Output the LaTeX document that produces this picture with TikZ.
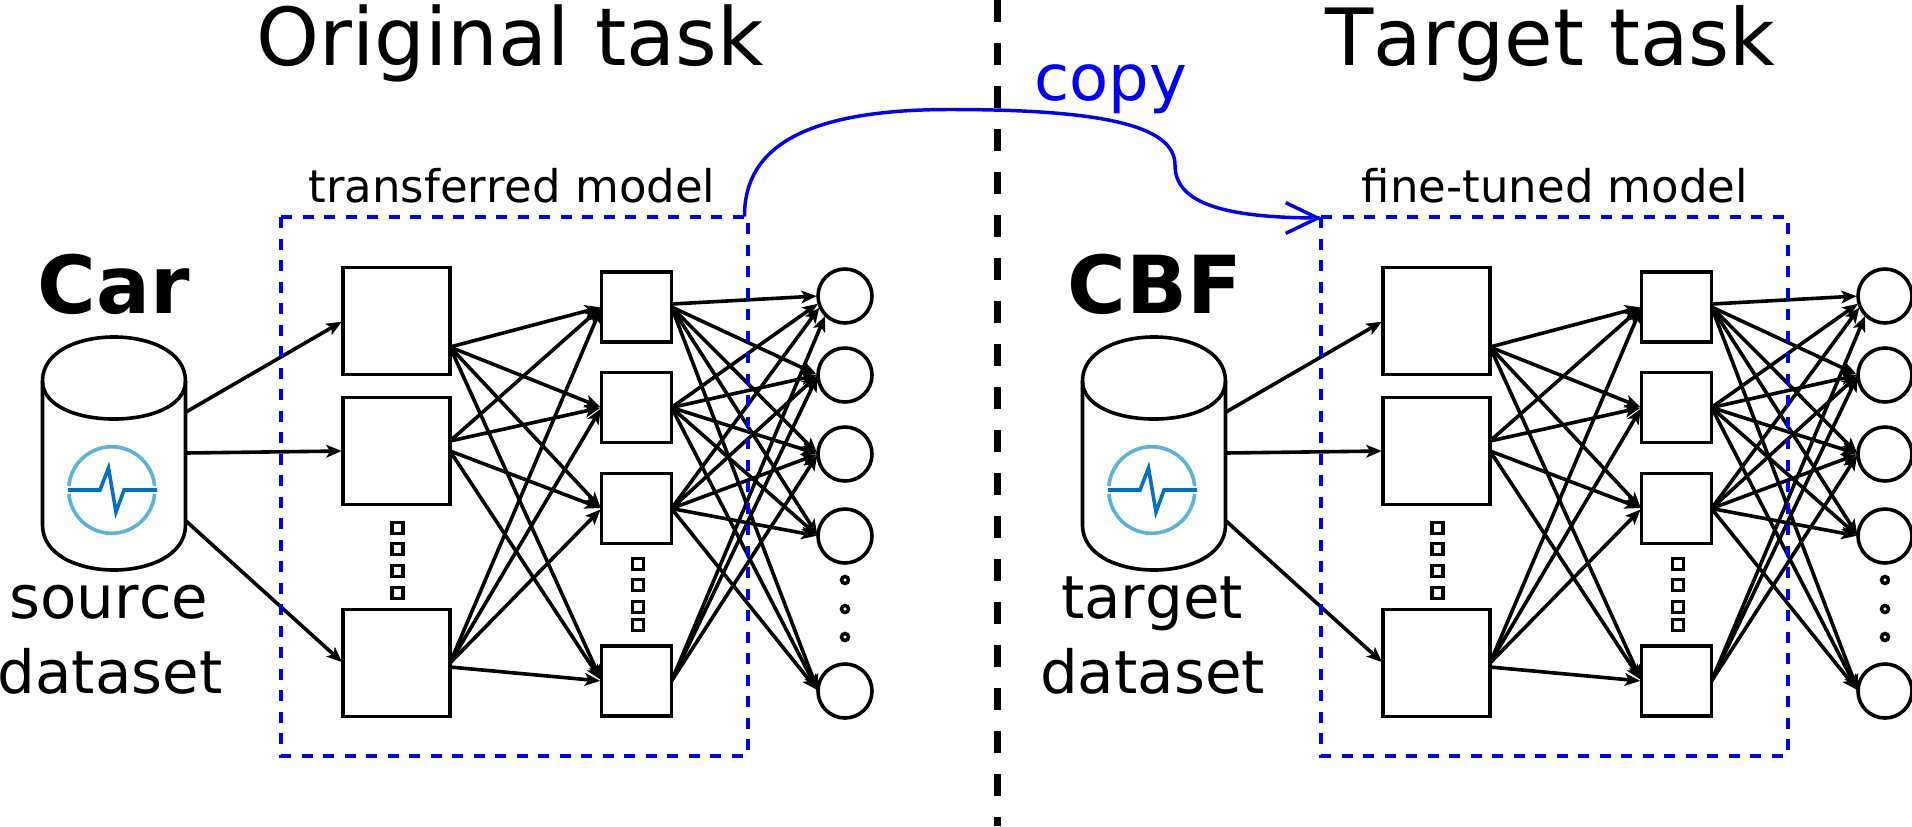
\documentclass[tikz,border=0pt]{standalone}
\usepackage{fontspec}
\setmainfont[Kerning=Off]{DejaVu Sans}
\usetikzlibrary{arrows.meta}
\definecolor{pblue}{RGB}{0,0,255}
\definecolor{iconlight}{RGB}{89,180,217}
\definecolor{icondark}{RGB}{0,114,198}
\tikzset{
  bigbox/.style={draw,fill=white,line width=2.7pt,minimum width=107*0.75pt,minimum height=107*0.75pt,inner sep=0pt,outer sep=0pt},
  smallbox/.style={draw,fill=white,line width=2.7pt,minimum width=70*0.75pt,minimum height=70*0.75pt,inner sep=0pt,outer sep=0pt},
  unitc/.style={draw,fill=white,circle,line width=2.7pt,minimum size=54*0.75pt,inner sep=0pt,outer sep=0pt},
  tinysq/.style={draw,fill=white,line width=2.7pt,minimum size=11*0.75pt,inner sep=0pt,outer sep=0pt},
  tinyc/.style={draw,fill=white,circle,line width=2.6pt,minimum size=7*0.75pt,inner sep=0pt,outer sep=0pt},
  edge/.style={draw,line width=2.7pt,-{Stealth[length=11.5pt,width=9.5pt,inset=2.8pt]},shorten >=1pt},
  bluedash/.style={draw=pblue,line width=3pt,dash pattern=on 8.25pt off 7.875pt},
  frame/.style={minimum width=466.5*0.75pt,minimum height=539*0.75pt,inner sep=0pt,outer sep=0pt},
  ttl/.style={inner sep=0pt,anchor=base,font=\fontsize{60}{72}\selectfont},
  sub/.style={inner sep=0pt,anchor=base,font=\fontsize{33.75}{40}\selectfont},
  dsname/.style={inner sep=0pt,anchor=base,font=\fontsize{60}{72}\selectfont\bfseries},
  dslabel/.style={inner sep=0pt,anchor=base,font=\fontsize{44.6}{54}\selectfont},
}
\newcommand{\panel}[1]{%
  % nodes
  \node[bigbox] (#1b1) at (396.5,321) {};
  \node[bigbox] (#1b2) at (396.5,451) {};
  \node[bigbox] (#1b3) at (396.5,663) {};
  \node[smallbox] (#1s1) at (636.5,307) {};
  \node[smallbox] (#1s2) at (636.5,407.5) {};
  \node[smallbox] (#1s3) at (636.5,508.5) {};
  \node[smallbox] (#1s4) at (636.5,681) {};
  \node[unitc] (#1c1) at (845,296) {};
  \node[unitc] (#1c2) at (845,375) {};
  \node[unitc] (#1c3) at (845,454) {};
  \node[unitc] (#1c4) at (845,536) {};
  \node[unitc] (#1c5) at (845,691) {};
  \node[tinysq] (#1p1) at (397.5,528) {};
  \node[tinysq] (#1p2) at (397.5,549) {};
  \node[tinysq] (#1p3) at (397.5,571) {};
  \node[tinysq] (#1p4) at (397.5,593) {};
  \node[tinysq] (#1q1) at (638,564) {};
  \node[tinysq] (#1q2) at (638,585) {};
  \node[tinysq] (#1q3) at (638,607) {};
  \node[tinysq] (#1q4) at (638,625) {};
  \node[tinyc] (#1d1) at (845,580) {};
  \node[tinyc] (#1d2) at (845,609) {};
  \node[tinyc] (#1d3) at (845,637) {};
  % database
  \draw[line width=2.7pt,fill=white,line join=round] (42.5,381) .. controls (42.5,322.3) and (185.5,322.3) .. (185.5,381)
     -- (185.5,525) .. controls (185.5,585) and (42.5,585) .. (42.5,525) -- cycle;
  \draw[line width=2.7pt] (42.5,381) .. controls (42.5,431.7) and (185.5,431.7) .. (185.5,381);
  \draw[iconlight,line width=2.7pt] (68.9,486) arc[start angle=185,end angle=355,radius=43];
  \draw[iconlight,line width=2.7pt] (68.9,494) arc[start angle=175,end angle=5,radius=43];
  \draw[icondark,line width=2.7pt,miter limit=10] (68,490) -- (100,490) -- (108.5,468) -- (116,512) -- (124,490) -- (157,490);
  \coordinate (#1da) at (186,412);
  \coordinate (#1db) at (186,453);
  \coordinate (#1dc) at (186,521);
  \coordinate (#1b1o) at (450,347);
  \coordinate (#1b2o) at (450,441);
  \coordinate (#1b3o) at (450,667);
  \coordinate (#1s1o) at (672,304);
  % connectors
  \draw[edge] (#1da) -- (#1b1.west);
  \draw[edge] (#1db) -- (#1b2.west);
  \draw[edge] (#1dc) -- (#1b3.west);
  \foreach \t in {1,2,3,4}{\draw[edge] (#1b1o) -- (#1s\t.west);}
  \draw[edge] (#1b2o) -- (#1s1.west);
  \draw[edge] (#1b2o) -- (#1s2.west);
  \draw[edge] (#1b2.east) -- (#1s3.west);
  \draw[edge] (#1b2.east) -- (#1s4.west);
  \foreach \t in {1,2,3}{\draw[edge] (#1b3.east) -- (#1s\t.west);}
  \draw[edge] (#1b3o) -- (#1s4.west);
  \draw[edge] (#1s1o) -- (#1c1.west);
  \foreach \t in {2,3,4,5}{\draw[edge] (#1s1.east) -- (#1c\t.west);}
  \draw[edge] (#1s2.east) -- (#1c1.195);
  \foreach \t in {2,3,4,5}{\draw[edge] (#1s2.east) -- (#1c\t.west);}
  \draw[edge] (#1s3.east) -- (#1c1.203);
  \foreach \t in {2,3,4,5}{\draw[edge] (#1s3.east) -- (#1c\t.west);}
  \draw[edge] (#1s4.east) -- (#1c1.224);
  \draw[edge] (#1s4.east) -- (#1c2.west);
  \draw[edge] (#1s4.east) -- (#1c3.west);
  % dashed frame
  \node[frame] (#1frame) at (514.25,486.2) {};
  \draw[bluedash] (#1frame.north west) -- (#1frame.north east) -- (#1frame.south east) -- (#1frame.south west) -- (#1frame.north west);
}
\begin{document}
\begin{tikzpicture}[x=0.75pt,y=-0.75pt]
\useasboundingbox (0,0) rectangle (1912,826);
\coordinate (divtop) at (997.7,0);
\coordinate (divbot) at (997.7,826);
\draw[line width=5.6pt,dash pattern=on 16.125pt off 16.125pt] (divtop) -- (divbot);
\panel{L}
\begin{scope}[xshift=780pt]
\panel{R}
\end{scope}
\node[ttl] (t1) at (510,65) {Original task};
\node[ttl,font=\fontsize{59.2}{72}\selectfont] (t2) at (1550.5,65) {Target task};
\node[sub] (m1) at (512,202) {transferred model};
\node[sub] (m2) at (1555,202) {fine-tuned model};
\node[dsname] (n1) at (114,313) {Car};
\node[dsname] (n2) at (1154.5,313) {CBF};
\node[dslabel] (a1) at (109,618) {source};
\node[dslabel] (a2) at (110,693) {dataset};
\node[dslabel] (a3) at (1152,618) {target};
\node[dslabel] (a4) at (1152.5,693) {dataset};
\node[inner sep=0pt,anchor=base,text=pblue,font=\fontsize{48}{56}\selectfont] (cp) at (1110.5,100) {copy};
\draw[pblue,line width=2.6pt] (Lframe.north east) ++(-3,0) .. controls (744,150) and (800,109.5) .. (950,109.5)
  .. controls (1100,109.5) and (1175,125) .. (1175,165)
  .. controls (1175,200) and (1215,218) .. (1320,218);
\coordinate (hd) at (1321.7,218);
\draw[pblue,line width=2.6pt,-{Straight Barb[length=24pt,width=23pt]}] (1319,218) -- (hd);
\end{tikzpicture}
\end{document}
